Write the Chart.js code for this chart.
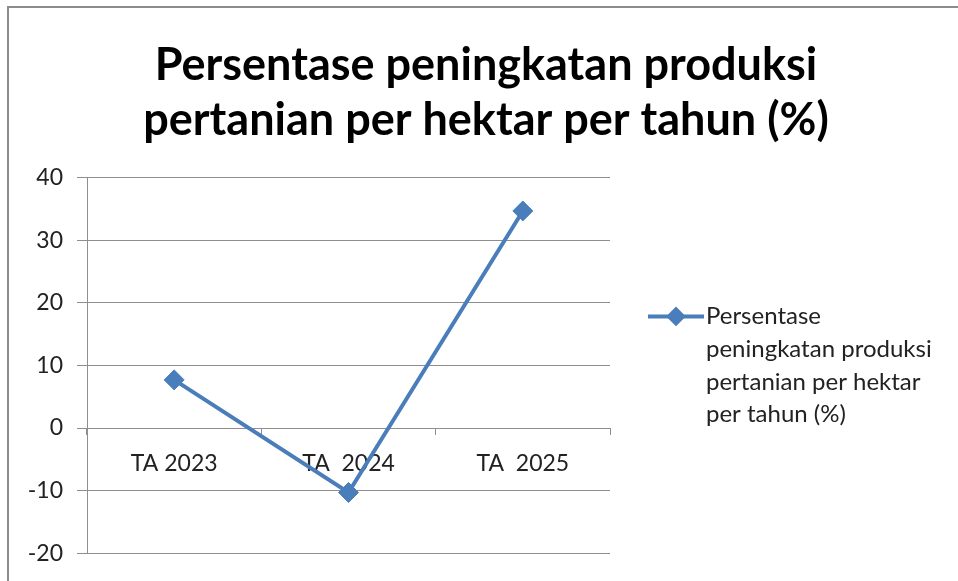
<!DOCTYPE html>
<html>
<head>
<meta charset="utf-8">
<script src="https://cdn.jsdelivr.net/npm/chart.js@4/dist/chart.umd.min.js"></script>
<style>
    html, body { margin: 0; padding: 0; background: #fff; overflow: hidden; }
    #frame { position: absolute; left: 7px; top: 6px; width: 980px; height: 600px;
             border-left: 2px solid #8c8c8c; border-top: 2px solid #8c8c8c; }
    #wrap { position: absolute; left: 0; top: 0; width: 958px; height: 581px; }
</style>
</head>
<body>
<div id="frame"></div>
<div id="wrap"><canvas id="graph01"></canvas></div>
<script>
const categories = ['TA 2023', 'TA  2024', 'TA  2025'];
const values = [7.7, -10.3, 34.7];
const seriesName = 'Persentase peningkatan produksi pertanian per hektar per tahun (%)';
const titleLines = ['Persentase peningkatan produksi', 'pertanian per hektar per tahun (%)'];
const yMin = -20, yMax = 40, yStep = 10;

const LINE_BLUE = 'rgb(74, 126, 187)';
const GRID = '#8e8e8e';

Chart.defaults.font.family = 'Lato';
Chart.defaults.color = '#222';

// legend on the right, wrapped like the office one
const sideLegend = {
    id: 'sideLegend',
    afterDraw(chart) {
        const { ctx, chartArea } = chart;
        const ds = chart.data.datasets[0];
        ctx.save();
        ctx.font = '24px Lato';
        const words = ds.label.split(' ');
        const lines = [];
        let cur = '';
        words.forEach(w => {
            const t = cur ? cur + ' ' + w : w;
            if (ctx.measureText(t).width > 242 && cur) {
                lines.push(cur);
                cur = w;
            } else {
                cur = t;
            }
        });
        lines.push(cur);

        const lh = 32.7;
        const cy = (chartArea.top + chartArea.bottom) / 2;
        const y0 = cy - (lines.length - 1) * lh / 2;
        const x0 = chartArea.right + 38;

        ctx.strokeStyle = ds.borderColor;
        ctx.fillStyle = ds.borderColor;
        ctx.lineWidth = 4;
        ctx.beginPath();
        ctx.moveTo(x0, y0);
        ctx.lineTo(x0 + 56, y0);
        ctx.stroke();
        Chart.helpers.drawPoint(ctx, { pointStyle: 'rectRot', radius: 7, borderWidth: 1 }, x0 + 28, y0);

        ctx.fillStyle = '#222';
        ctx.textAlign = 'left';
        ctx.textBaseline = 'middle';
        lines.forEach((l, i) => ctx.fillText(l, x0 + 58, y0 + i * lh));
        ctx.restore();
    }
};

new Chart(document.getElementById('graph01'), {
    type: 'line',
    data: {
        labels: categories,
        datasets: [{
            label: seriesName,
            data: values,
            borderColor: LINE_BLUE,
            backgroundColor: LINE_BLUE,
            borderWidth: 4,
            pointStyle: 'rectRot',
            pointRadius: 10,
            pointBorderWidth: 1,
            tension: 0
        }]
    },
    options: {
        responsive: true,
        maintainAspectRatio: false,
        animation: false,
        layout: { padding: { left: 14, right: 0, top: 0, bottom: 27 } },
        plugins: {
            legend: { display: false },
            tooltip: { enabled: false },
            title: {
                display: true,
                text: titleLines,
                color: '#000',
                font: { size: 45, weight: 'bold', lineHeight: 1.22 },
                padding: { top: 38, bottom: 30 }
            }
        },
        scales: {
            x: {
                position: { y: 0 },
                offset: true,
                grid: { drawOnChartArea: false, drawTicks: true, tickLength: 6, offset: true, color: GRID },
                border: { display: true, color: GRID, width: 1 },
                ticks: { font: { size: 23 }, padding: 16, color: '#222', autoSkip: false, maxRotation: 0 }
            },
            y: {
                min: yMin,
                max: yMax,
                grid: { color: GRID, tickLength: 10 },
                border: { display: true, color: GRID },
                ticks: { stepSize: yStep, font: { size: 23 }, padding: 14, color: '#222' },
                afterFit(scale) { scale.width = 73; }
            },
            // empty right-hand box that leaves room for the legend
            side: {
                position: 'right',
                grid: { drawOnChartArea: false, drawTicks: false },
                border: { display: false },
                ticks: { display: false },
                afterFit(scale) { scale.width = 348; }
            }
        }
    },
    plugins: [sideLegend]
});
</script>
</body>
</html>
